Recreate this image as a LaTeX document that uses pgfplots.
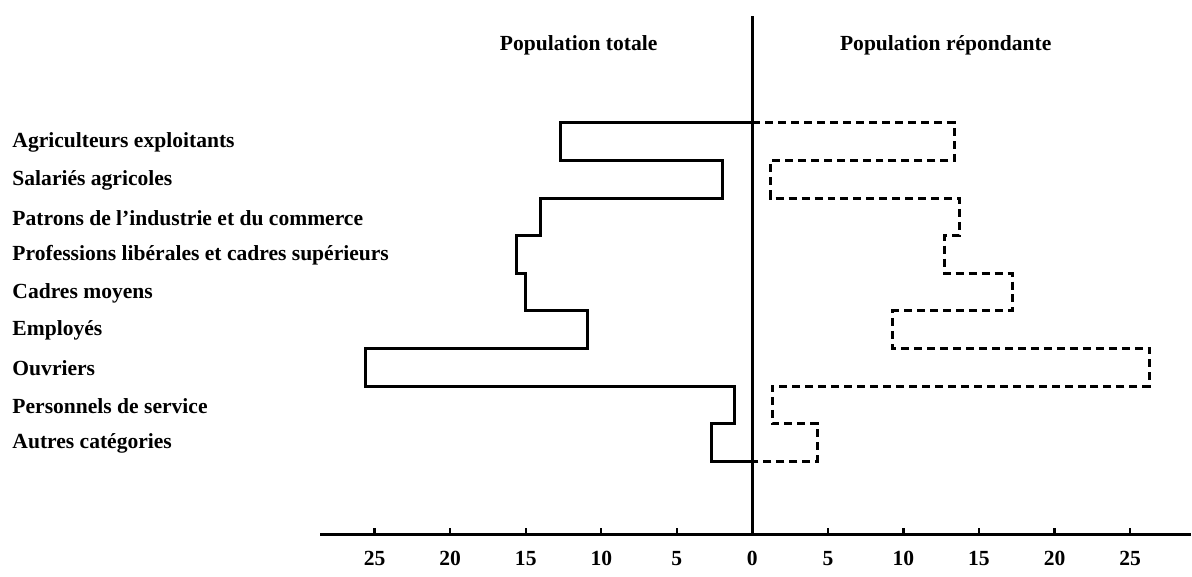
\documentclass[border=0pt]{standalone}
\usepackage{fontspec}
\setmainfont{Liberation Serif}
\usepackage{pgfplots}
\pgfplotsset{compat=1.18}
\begin{document}
\begin{tikzpicture}[font=\fontsize{10.8}{13}\selectfont\bfseries]
\begin{axis}[
  scale only axis, width=436pt, height=259.5pt,
  xmin=-28.6, xmax=29.0, ymin=-1.94, ymax=11.84,
  axis x line=bottom, axis y line=center,
  axis line style={-, line width=1.5pt, black},
  xtick={-25,-20,...,25},
  xticklabels={25,20,15,10,5,0,5,10,15,20,25},
  ytick=\empty,
  tick align=inside, major tick length=3pt,
  tick style={line width=1.2pt, black},
  xticklabel style={yshift=-5pt, font=\fontsize{10.8}{13}\selectfont\bfseries},
  hide obscured x ticks=false,
  clip=false,
]
% frame of the whole picture (keeps the reference's proportions)
\path (axis cs:-49.8,12.27) rectangle (axis cs:29.0,-3.06);

% Population totale (left, solid)
\addplot[black, line width=1.5pt, line join=miter] coordinates {
  (0,9) (-12.7,9) (-12.7,8) (-2.0,8) (-2.0,7) (-14.0,7) (-14.0,6)
  (-15.6,6) (-15.6,5) (-15.0,5) (-15.0,4) (-10.9,4) (-10.9,3)
  (-25.6,3) (-25.6,2) (-1.2,2) (-1.2,1) (-2.7,1) (-2.7,0) (0,0)};

% Population repondante (right, dashed)
\addplot[black, line width=1.5pt, dash pattern=on 4pt off 2.5pt] coordinates {
  (0,9) (13.4,9) (13.4,8) (1.2,8) (1.2,7) (13.7,7) (13.7,6)
  (12.7,6) (12.7,5) (17.2,5) (17.2,4) (9.3,4) (9.3,3)
  (26.3,3) (26.3,2) (1.3,2) (1.3,1) (4.3,1) (4.3,0) (0,0)};

\node at (axis cs:-11.5,11.07) {Population totale};
\node at (axis cs:12.8,11.07) {Population répondante};

\begin{scope}[every node/.style={anchor=west, inner sep=0pt}]
\node at (axis cs:-49.0,8.47) {Agriculteurs exploitants};
\node at (axis cs:-49.0,7.47) {Salariés agricoles};
\node at (axis cs:-49.0,6.47) {Patrons de l'industrie et du commerce};
\node at (axis cs:-49.0,5.47) {Professions libérales et cadres supérieurs};
\node at (axis cs:-49.0,4.47) {Cadres moyens};
\node at (axis cs:-49.0,3.47) {Employés};
\node at (axis cs:-49.0,2.47) {Ouvriers};
\node at (axis cs:-49.0,1.47) {Personnels de service};
\node at (axis cs:-49.0,0.47) {Autres catégories};
\end{scope}
\end{axis}
\end{tikzpicture}
\end{document}
